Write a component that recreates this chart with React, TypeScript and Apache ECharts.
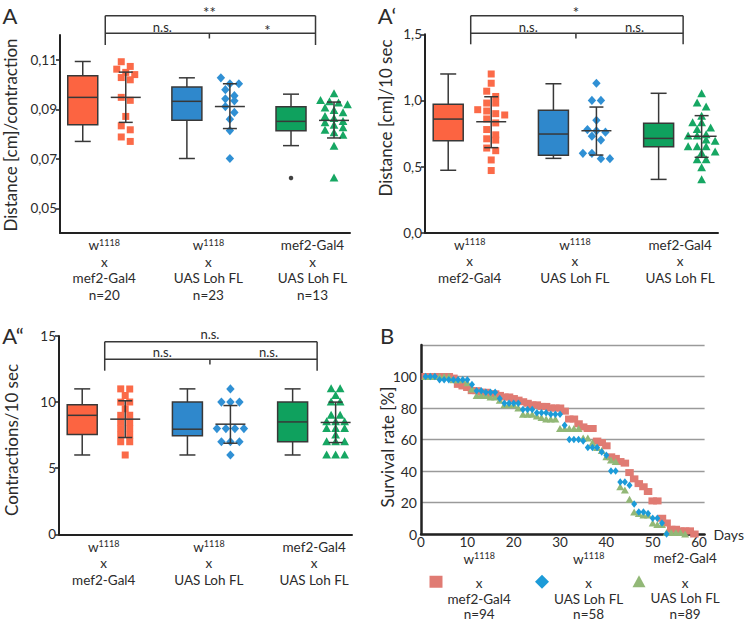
import React, { useEffect, useRef } from "react";
import * as echarts from "echarts";

// ---------------- data ----------------
const groupHead = ["w", "w", "mef2-Gal4"];
const groupSup = ["1118", "1118", ""];
const groupTail = ["mef2-Gal4", "UAS Loh FL", "UAS Loh FL"];
const nCountsA = ["n=20", "n=23", "n=13"];
const nCountsB = ["n=94", "n=58", "n=89"];

const yTicksA = [0.05, 0.07, 0.09, 0.11];
const yTicksA1 = [0, 0.5, 1.0, 1.5];
const yTicksA2 = [0, 5, 10, 15];
const xTicksB = [0, 10, 20, 30, 40, 50, 60];
const yTicksB = [0, 20, 40, 60, 80, 100];

// Panel A: distance per contraction. Boxes: [min, Q1, median, Q3, max]
const boxA = [
  [0.077, 0.0837, 0.0948, 0.1035, 0.1093],
  [0.0701, 0.0856, 0.0932, 0.099, 0.1027],
  [0.0753, 0.0813, 0.0851, 0.091, 0.0961],
];
const outliersA = [[], [], [0.0622]];
const ptsA = [
  [0.1092, 0.1073, 0.1062, 0.1049, 0.104, 0.1028, 0.1019, 0.0948, 0.0936, 0.0871, 0.0833, 0.0817, 0.0788, 0.077],
  [0.1027, 0.1003, 0.1003, 0.0979, 0.0955, 0.0942, 0.0934, 0.0911, 0.0887, 0.086, 0.0814, 0.0701],
  [0.0962, 0.0935, 0.093, 0.0925, 0.0918, 0.0905, 0.0895, 0.0885, 0.087, 0.0862, 0.085, 0.0845, 0.0835, 0.0825, 0.0815, 0.0805, 0.0795, 0.075, 0.0622],
];
const meanA = [0.0948, 0.0911, 0.0855];
const sdLoA = [0.0847, 0.0822, 0.0784];
const sdHiA = [0.105, 0.1003, 0.0929];

// Panel A': distance per 10 sec
const boxA1 = [
  [0.472, 0.695, 0.859, 0.972, 1.2],
  [0.562, 0.585, 0.746, 0.925, 1.126],
  [0.403, 0.65, 0.713, 0.827, 1.054],
];
const ptsA1 = [
  [1.2, 1.13, 1.07, 1.03, 0.98, 0.98, 0.93, 0.92, 0.9, 0.89, 0.86, 0.83, 0.78, 0.74, 0.71, 0.7, 0.64, 0.62, 0.55, 0.47],
  [1.13, 1.0, 1.0, 0.85, 0.78, 0.77, 0.76, 0.73, 0.7, 0.6, 0.6, 0.56, 0.56],
  [1.05, 0.98, 0.95, 0.88, 0.83, 0.83, 0.79, 0.78, 0.74, 0.73, 0.73, 0.7, 0.69, 0.65, 0.65, 0.65, 0.61, 0.6, 0.55, 0.55, 0.49, 0.4],
];
const meanA1 = [0.839, 0.771, 0.729];
const sdLoA1 = [0.643, 0.587, 0.57];
const sdHiA1 = [1.028, 0.95, 0.885];

// Panel A'': contractions per 10 sec
const boxA2 = [
  [6, 7.55, 9, 9.8, 11],
  [6, 7.45, 7.95, 10, 11],
  [6, 7, 8.5, 10, 11],
];
const ptsA2 = [
  [11, 11, 10.5, 10, 10, 9.5, 9, 9, 8.5, 8.5, 8, 8, 7.5, 7.5, 7, 7, 6],
  [11, 10, 10, 10, 8, 8, 8, 8, 7, 7, 7, 6],
  [11, 11, 10.5, 10, 10, 9, 9, 8.5, 8.5, 8.5, 8, 8, 8, 7.5, 7, 7, 7, 6, 6, 6],
];
const meanA2 = [8.71, 8.33, 8.46];
const sdLoA2 = [7.32, 6.89, 6.94];
const sdHiA2 = [10.1, 9.74, 10.0];

// Panel B: survival (%) per day, starting at day 1
const survRed = [100, 100, 100, 100, 100, 100, 99, 95, 94, 93, 91, 91, 90, 90, 89, 89, 88, 87, 87, 86, 85, 84, 83, 82, 82, 81, 81, 80, 80, 80, 78, 73, 73, 70, 68, 67, 67, 59, 58, 56, 49, 48, 46, 45, 39, 35, 32, 30, 27, 21, 21, 10, 7, 3, 3, 2, 2, 2, 0];
const survBlue = [100, 100, 100, 98, 98, 98, 98, 98, 98, 98, 95, 91, 91, 90, 90, 90, 86, 83, 83, 83, 83, 79, 79, 79, 77, 77, 77, 76, 76, 76, 69, 60, 60, 60, 59, 55, 55, 55, 52, 50, 40, 40, 33, 33, 31, 19, 14, 14, 13, 10, 10, 7, 0];
const survGreen = [100, 100, 100, 100, 100, 100, 98, 98, 98, 96, 92, 88, 88, 88, 87, 87, 85, 82, 82, 82, 80, 76, 76, 76, 75, 74, 73, 73, 73, 67, 67, 67, 67, 67, 61, 61, 58, 55, 53, 49, 47, 46, 30, 28, 22, 14, 13, 12, 12, 7, 6, 6, 1, 1, 1, 1, 0];

const sigTop = ["**", "*", "n.s."];
const sigLeft = ["n.s.", "n.s.", "n.s."];
const sigRight = ["*", "n.s.", "n.s."];

// ---------------- styles / layout ----------------
const FONT = 'Lato, "Open Sans", sans-serif';
const TXT = "#2b2b2b";
const AXIS = "#222";
const LINE = "#383838";
const boxColors = ["#FC6441", "#2F88CC", "#0FA15E"];
const ptColors = ["#FB6A48", "#3090D4", "#16A763"];
const ptShapes = ["square", "diamond", "triangle"];
const survColors = ["#E07B73", "#1C9BD8", "#92B877"];
const OFF = 21.5;

const boxGrids = [
  { left: 60, top: 35, width: 290, height: 198 },
  { left: 425, top: 34.3, width: 293, height: 198.4 },
  { left: 59, top: 336, width: 293, height: 198.3 },
];
const gridB = { left: 421, top: 345, width: 287, height: 189 };

const panels = [
  { box: boxA, pts: ptsA, mean: meanA, lo: sdLoA, hi: sdHiA, ticks: yTicksA, min: 0.04, max: 0.12, dec: 2, withN: true },
  { box: boxA1, pts: ptsA1, mean: meanA1, lo: sdLoA1, hi: sdHiA1, ticks: yTicksA1, min: 0, max: 1.5, dec: 1, withN: false },
  { box: boxA2, pts: ptsA2, mean: meanA2, lo: sdLoA2, hi: sdHiA2, ticks: yTicksA2, min: 0, max: 15, dec: 0, withN: false },
];

const brk = [
  { top: 15.7, inner: 33.3, foot: 45, notch: 38.5, topText: 9, innerText: 27 },
  { top: 15.7, inner: 33.3, foot: 44.3, notch: 38.5, topText: 9, innerText: 27 },
  { top: 341.7, inner: 359.3, foot: 370.7, notch: 364.5, topText: 334, innerText: 352 },
];

const richLabel = {
  t: { fontFamily: FONT, fontSize: 13.5, lineHeight: 16.5, align: "center", color: TXT },
  s: { fontFamily: FONT, fontSize: 9, lineHeight: 16.5, padding: [0, 0, 6, 0], align: "center", color: TXT },
};
const richLegend = {
  wb: { fontFamily: FONT, fontSize: 13.5, lineHeight: 34, align: "center", color: TXT },
  sb: { fontFamily: FONT, fontSize: 9, lineHeight: 34, padding: [0, 0, 6, 0], align: "center", color: TXT },
  t: { fontFamily: FONT, fontSize: 13.5, lineHeight: 15.5, align: "center", color: TXT },
};

function catLabel(i: number, n: string | null) {
  const head = groupSup[i] ? `{t|${groupHead[i]}}{s|${groupSup[i]}}` : `{t|${groupHead[i]}}`;
  let s = `${head}\n{t|x}\n{t|${groupTail[i]}}`;
  if (n) s += `\n{t|${n}}`;
  return s;
}
function legendLabel(i: number) {
  const head = groupSup[i] ? `{wb|${groupHead[i]}}{sb|${groupSup[i]}}` : `{wb|${groupHead[i]}}`;
  return `${head}\n{t|x}\n{t|${groupTail[i]}}\n{t|${nCountsB[i]}}`;
}
const seriesNames = [0, 1, 2].map((i) => `${groupHead[i]}${groupSup[i]} x ${groupTail[i]}`);

function rowOffsets(pys: number[], thresh: number, step: number) {
  const order = pys.map((_, i) => i).sort((a, b) => pys[a] - pys[b]);
  const off = new Array(pys.length).fill(0);
  let row: number[] = [];
  const flush = () => row.forEach((idx, k) => (off[idx] = (k - (row.length - 1) / 2) * step));
  for (const i of order) {
    if (row.length && pys[i] - pys[row[0]] >= thresh) {
      flush();
      row = [];
    }
    row.push(i);
  }
  flush();
  return off;
}

function marker(kind: string, x: number, y: number, fill: string) {
  if (kind === "square") return { type: "rect", shape: { x: x - 3.5, y: y - 3.5, width: 7, height: 7 }, style: { fill } };
  if (kind === "diamond")
    return { type: "polygon", shape: { points: [[x, y - 4.6], [x + 4.2, y], [x, y + 4.6], [x - 4.2, y]] }, style: { fill } };
  return { type: "polygon", shape: { points: [[x, y - 4.6], [x + 4.4, y + 3.4], [x - 4.4, y + 3.4]] }, style: { fill } };
}

function renderBox(params: any, api: any) {
  const c = api.value(0);
  const g = c - 1;
  const cx = api.coord([c, api.value(3)])[0] - OFF;
  const py = (k: number) => api.coord([c, api.value(k)])[1];
  const yMin = py(1), yQ1 = py(2), yMed = py(3), yQ3 = py(4), yMax = py(5);
  const ls = { stroke: LINE, lineWidth: 1.5 };
  return {
    type: "group",
    children: [
      { type: "line", shape: { x1: cx, y1: yMax, x2: cx, y2: yQ3 }, style: ls },
      { type: "line", shape: { x1: cx, y1: yQ1, x2: cx, y2: yMin }, style: ls },
      { type: "line", shape: { x1: cx - 8, y1: yMax, x2: cx + 8, y2: yMax }, style: ls },
      { type: "line", shape: { x1: cx - 8, y1: yMin, x2: cx + 8, y2: yMin }, style: ls },
      { type: "rect", shape: { x: cx - 15, y: yQ3, width: 30, height: yQ1 - yQ3 }, style: { fill: boxColors[g], stroke: LINE, lineWidth: 1.5 } },
      { type: "line", shape: { x1: cx - 15, y1: yMed, x2: cx + 15, y2: yMed }, style: ls },
    ],
  };
}

function renderErr(params: any, api: any) {
  const c = api.value(0);
  const cx = api.coord([c, api.value(1)])[0] + OFF;
  const ym = api.coord([c, api.value(1)])[1];
  const yl = api.coord([c, api.value(2)])[1];
  const yh = api.coord([c, api.value(3)])[1];
  const ls = { stroke: LINE, lineWidth: 1.5 };
  return {
    type: "group",
    children: [
      { type: "line", shape: { x1: cx, y1: yh, x2: cx, y2: yl }, style: ls },
      { type: "line", shape: { x1: cx - 7, y1: yh, x2: cx + 7, y2: yh }, style: ls },
      { type: "line", shape: { x1: cx - 7, y1: yl, x2: cx + 7, y2: yl }, style: ls },
      { type: "line", shape: { x1: cx - 15, y1: ym, x2: cx + 15, y2: ym }, style: ls },
    ],
  };
}

function makeRenderPts(pts: number[][]) {
  return (params: any, api: any) => {
    const c = api.value(0);
    const g = c - 1;
    const j = api.value(2);
    const cx = api.coord([c, pts[g][0]])[0] + OFF;
    const pys = pts[g].map((v) => api.coord([c, v])[1]);
    const offs = rowOffsets(pys, 6, 9);
    return marker(ptShapes[g], cx + offs[j], pys[j], ptColors[g]);
  };
}

function fmtNum(v: number, dec: number) {
  return v.toFixed(dec).replace(".", ",");
}

function buildOption() {
  const grid: any[] = [...boxGrids, gridB];
  const xAxis: any[] = [];
  const yAxis: any[] = [];
  const series: any[] = [];

  panels.forEach((p, k) => {
    xAxis.push({
      gridIndex: k,
      type: "value",
      min: 0.575,
      max: 3.36,
      axisLine: { show: true, onZero: false, lineStyle: { color: AXIS, width: 2 } },
      axisTick: { show: false },
      splitLine: { show: false },
      axisLabel: {
        customValues: [1, 2, 3],
        margin: 4,
        formatter: (v: number) => catLabel(Math.round(v) - 1, p.withN ? nCountsA[Math.round(v) - 1] : null),
        rich: richLabel,
      },
    });
    yAxis.push({
      gridIndex: k,
      type: "value",
      min: p.min,
      max: p.max,
      axisLine: { show: true, onZero: false, lineStyle: { color: AXIS, width: 2 } },
      axisTick: { show: true, length: 4, customValues: p.ticks, lineStyle: { color: AXIS, width: 1.5 } },
      splitLine: { show: false },
      axisLabel: {
        customValues: p.ticks,
        margin: 3,
        formatter: (v: number) => fmtNum(v, p.dec),
        fontFamily: FONT,
        fontSize: 13.5,
        color: TXT,
      },
    });
    series.push({
      type: "custom",
      xAxisIndex: k,
      yAxisIndex: k,
      z: 2,
      renderItem: renderBox,
      encode: { x: 0, y: [1, 2, 3, 4, 5] },
      data: p.box.map((b, i) => [i + 1, ...b]),
    });
    const ptData: number[][] = [];
    p.pts.forEach((arr, i) => arr.forEach((v, j) => ptData.push([i + 1, v, j])));
    series.push({
      type: "custom",
      xAxisIndex: k,
      yAxisIndex: k,
      z: 3,
      renderItem: makeRenderPts(p.pts),
      encode: { x: 0, y: 1 },
      data: ptData,
    });
    series.push({
      type: "custom",
      xAxisIndex: k,
      yAxisIndex: k,
      z: 4,
      renderItem: renderErr,
      encode: { x: 0, y: [1, 2, 3] },
      data: p.mean.map((m, i) => [i + 1, m, p.lo[i], p.hi[i]]),
    });
  });

  const outData: number[][] = [];
  outliersA.forEach((arr, i) => arr.forEach((v) => outData.push([i + 1, v])));
  series.push({
    type: "scatter",
    xAxisIndex: 0,
    yAxisIndex: 0,
    symbol: "circle",
    symbolSize: 4.5,
    symbolOffset: [-OFF, 0],
    itemStyle: { color: "#111" },
    z: 5,
    data: outData,
  });

  // Panel B
  xAxis.push({
    gridIndex: 3,
    type: "value",
    min: 0,
    max: 61.2,
    interval: 10,
    name: "Days",
    nameLocation: "end",
    nameGap: 9,
    nameTextStyle: { fontFamily: FONT, fontSize: 14, color: TXT, verticalAlign: "middle" },
    axisLine: { show: true, onZero: false, lineStyle: { color: AXIS, width: 2.5 } },
    axisTick: { show: false },
    splitLine: { show: false },
    axisLabel: { customValues: xTicksB, margin: 1, fontFamily: FONT, fontSize: 13.5, color: TXT },
  });
  yAxis.push({
    gridIndex: 3,
    type: "value",
    min: 0,
    max: 120,
    interval: 20,
    axisLine: { show: true, onZero: false, lineStyle: { color: AXIS, width: 2.5 } },
    axisTick: { show: false },
    splitLine: { show: true, lineStyle: { color: "#9a9a9a", width: 1.3 } },
    axisLabel: { customValues: yTicksB, margin: 4, fontFamily: FONT, fontSize: 14, color: TXT },
  });
  const survSets = [survRed, survBlue, survGreen];
  const survSymbols: any[] = ["rect", "diamond", "triangle"];
  const survSizes: any[] = [[8.5, 7], [6, 7.5], [8, 7]];
  const drawOrder = [0, 2, 1];
  drawOrder.forEach((i, k) => {
    series.push({
      type: "scatter",
      name: seriesNames[i],
      xAxisIndex: 3,
      yAxisIndex: 3,
      symbol: survSymbols[i],
      symbolSize: survSizes[i],
      itemStyle: { color: survColors[i], opacity: 1 },
      z: 2 + k,
      data: survSets[i].map((v, d) => [d + 1, v]),
    });
  });

  const legendIcon = [
    { icon: "rect", w: 13, h: 12, cx: 436 },
    { icon: "diamond", w: 14, h: 14, cx: 542 },
    { icon: "triangle", w: 13, h: 12, cx: 639 },
  ];
  const legend = legendIcon.map((l, i) => ({
    data: [{ name: seriesNames[i], icon: l.icon }],
    left: l.cx - l.w / 2,
    top: 551,
    padding: 0,
    itemWidth: l.w,
    itemHeight: l.h,
    itemGap: 0,
    selectedMode: false,
    formatter: () => legendLabel(i),
    textStyle: { rich: richLegend, color: TXT },
  }));

  return { animation: false, grid, xAxis, yAxis, series, legend };
}

function buildGraphics(chart: any) {
  const els: any[] = [];
  const ls = { stroke: LINE, lineWidth: 1.5 };
  const txt = (x: number, y: number, text: string, size: number, rot = 0) => ({
    type: "text",
    x,
    y,
    rotation: rot,
    style: { text, fill: TXT, fontFamily: FONT, fontSize: size, align: "center", verticalAlign: "middle" },
  });
  panels.forEach((p, k) => {
    const px = (c: number) => chart.convertToPixel({ gridIndex: k }, [c, p.max])[0];
    const xl = px(1) + 1;
    const xm = px(2) + 1;
    const xr = px(3) + 3;
    const b = brk[k];
    els.push({ type: "line", shape: { x1: xl, y1: b.top, x2: xr, y2: b.top }, style: ls });
    els.push({ type: "line", shape: { x1: xl, y1: b.top, x2: xl, y2: b.foot }, style: ls });
    els.push({ type: "line", shape: { x1: xr, y1: b.top, x2: xr, y2: b.foot }, style: ls });
    els.push({ type: "line", shape: { x1: xl, y1: b.inner, x2: xr, y2: b.inner }, style: ls });
    els.push({ type: "line", shape: { x1: xm, y1: b.inner, x2: xm, y2: b.notch }, style: ls });
    const star = (s: string) => s.indexOf("*") >= 0;
    els.push(txt(xm, b.topText + (star(sigTop[k]) ? 3 : 0), sigTop[k], star(sigTop[k]) ? 15 : 13));
    els.push(txt((xl + xm) / 2 + 5, b.innerText + (star(sigLeft[k]) ? 3 : 0), sigLeft[k], star(sigLeft[k]) ? 15 : 13));
    els.push(txt((xm + xr) / 2 + 5, b.innerText + (star(sigRight[k]) ? 3 : 0), sigRight[k], star(sigRight[k]) ? 15 : 13));
  });
  // axis titles
  els.push(txt(10, 135, "Distance [cm]/contraction", 17, Math.PI / 2));
  els.push(txt(385, 118, "Distance [cm]/10 sec", 17, Math.PI / 2));
  els.push(txt(11, 440, "Contractions/10 sec", 17, Math.PI / 2));
  els.push(txt(387, 447, "Survival rate [%]", 17, Math.PI / 2));
  // panel letters
  els.push(txt(10, 15, "A", 22));
  els.push(txt(387, 15, "A‘", 22));
  els.push(txt(13, 335, "A“", 22));
  els.push(txt(387, 335, "B", 22));
  return els;
}

export default function App() {
  const ref = useRef<HTMLDivElement>(null);
  useEffect(() => {
    const chart = echarts.init(ref.current as HTMLDivElement, null, { renderer: "svg" });
    chart.setOption(buildOption() as any);
    chart.setOption({ graphic: buildGraphics(chart) } as any);
    return () => chart.dispose();
  }, []);
  return <div ref={ref} style={{ position: "absolute", left: 0, top: 0, width: 745, height: 621, background: "#fff" }} />;
}
